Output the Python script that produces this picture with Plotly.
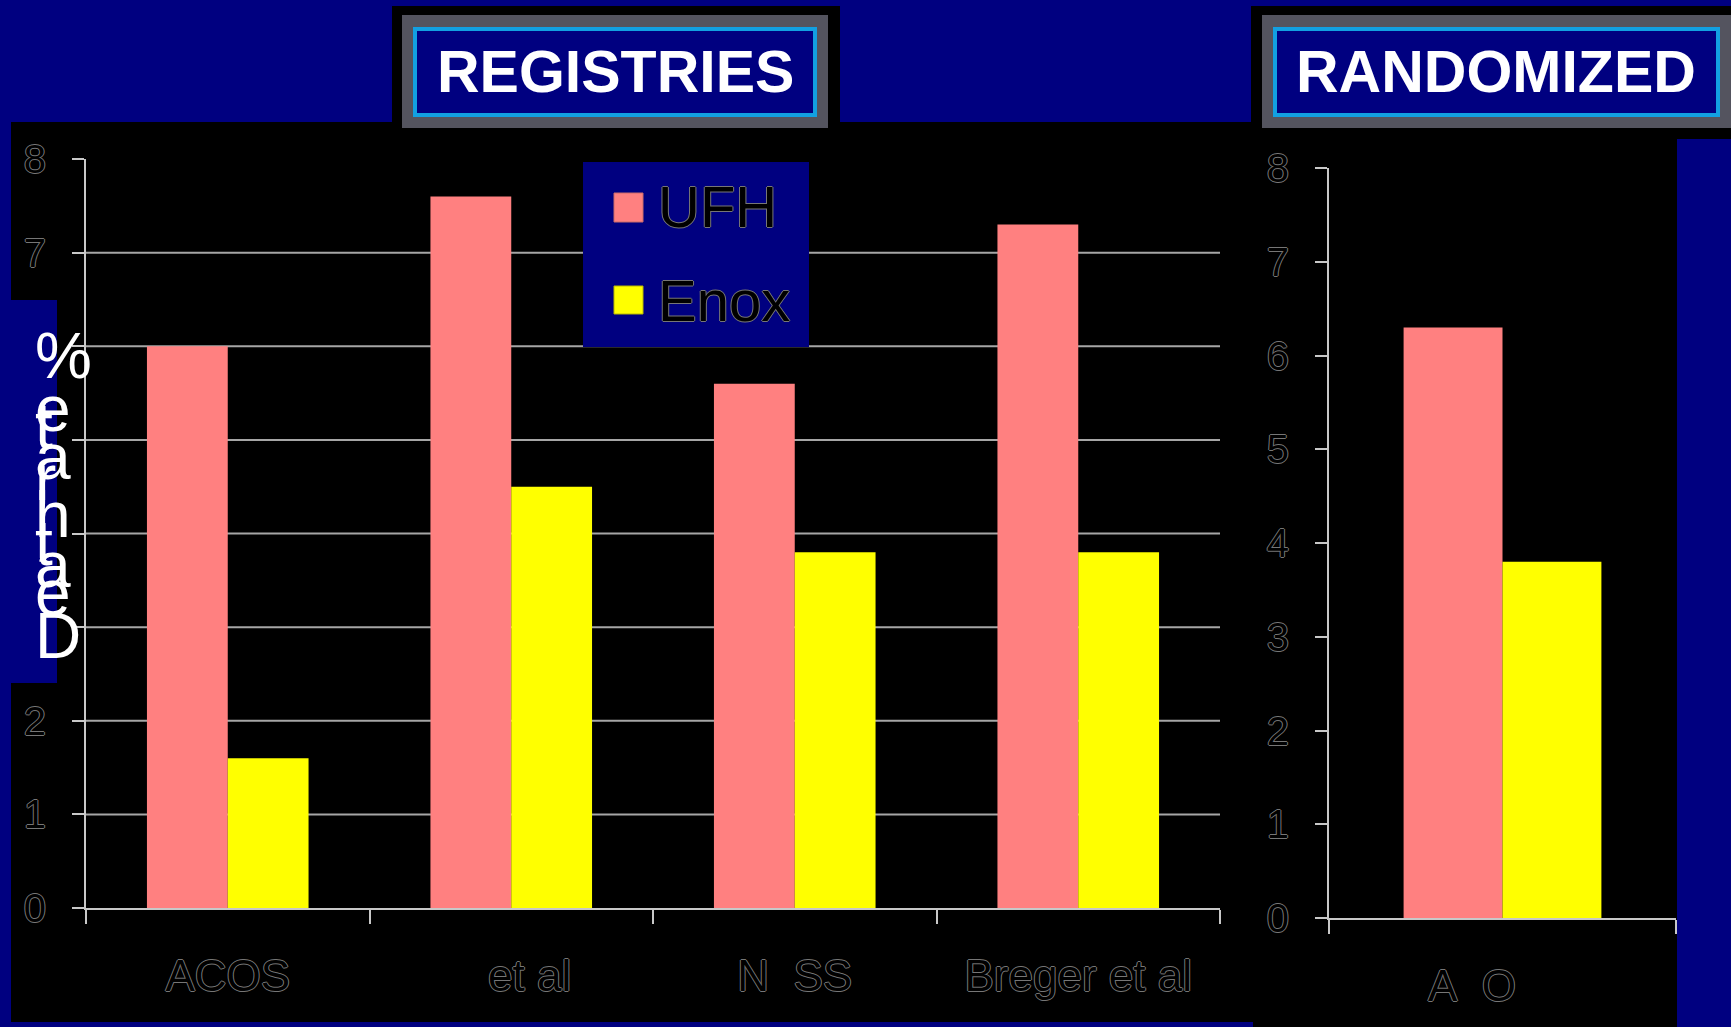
import plotly.graph_objects as go

W, H = 1731, 1027
NB = "\u00a0"

# ---- data ----
registry_studies = ["ACOS", NB * 3 + "et al", "N  SS", "Breger et al"]
registry_ufh = [6.0, 7.6, 5.6, 7.3]
registry_enox = [1.6, 4.5, 3.8, 3.8]

randomized_studies = ["A" + NB * 2 + "O" + NB * 5]
randomized_ufh = [6.3]
randomized_enox = [3.8]

y_ticks = [0, 1, 2, 3, 4, 5, 6, 7, 8]
grid_values = [1, 2, 3, 4, 5, 6, 7]
series_names = ["UFH", "Enox"]
panel_titles = ["REGISTRIES", "RANDOMIZED"]
y_title_letters = list("%etarhtaeD")

# ---- styling ----
NAVY = "#000080"
BLACK = "#000000"
UFH_COLOR = "#FF8080"
ENOX_COLOR = "#FFFF00"
CYAN = "#12a0e2"
TEXTURE = "#54545f"
AXIS_GREY = "#c8c8c8"
GRID_GREY = "#a6a6a6"
FONT = "Liberation Sans, Arial, sans-serif"
OUTLINE = ("-1px 0 0 #767676, 1px 0 0 #767676, "
           "0 -1px 0 #767676, 0 1px 0 #767676")


def px(x):
    return x / W


def py(y):
    return 1 - y / H


def rect(x0, y0, x1, y1, fill, line_color=None, line_width=0, layer="below"):
    return dict(type="rect", xref="paper", yref="paper",
                x0=px(x0), x1=px(x1), y0=py(y1), y1=py(y0),
                fillcolor=fill, layer=layer,
                line=dict(color=line_color or fill, width=line_width))


def label(text, x, y, font, xanchor="center"):
    return dict(text=text, x=px(x), y=py(y), xref="paper", yref="paper",
                xanchor=xanchor, yanchor="middle", showarrow=False, font=font)


fig = go.Figure()

for name, vals, color in [(series_names[0], registry_ufh, UFH_COLOR),
                          (series_names[1], registry_enox, ENOX_COLOR)]:
    fig.add_trace(go.Bar(x=registry_studies, y=vals, name=name,
                         marker=dict(color=color, line=dict(width=0)),
                         xaxis="x", yaxis="y", showlegend=False,
                         hovertemplate="%{y}%<extra>" + name + "</extra>"))

for name, vals, color in [(series_names[0], randomized_ufh, UFH_COLOR),
                          (series_names[1], randomized_enox, ENOX_COLOR)]:
    fig.add_trace(go.Bar(x=randomized_studies, y=vals, name=name,
                         marker=dict(color=color, line=dict(width=0)),
                         xaxis="x2", yaxis="y2", showlegend=False,
                         hovertemplate="%{y}%<extra>" + name + "</extra>"))

shapes = [
    # black chart panels
    rect(11, 122, 1253, 1022, BLACK),
    rect(1253, 122, 1677, 1027, BLACK),
    # title boxes: black frame, textured border, cyan line, navy fill
    rect(392, 6, 840, 124, BLACK),
    rect(402, 15, 828, 128, TEXTURE),
    rect(415, 29, 815, 115, NAVY, CYAN, 4),
    rect(1251, 6, 1731, 139, BLACK),
    rect(1262, 15, 1731, 128, TEXTURE),
    rect(1275, 29, 1718, 115, NAVY, CYAN, 4),
]

# horizontal gridlines, left chart only
for g in grid_values:
    shapes.append(dict(type="line", xref="x domain", yref="y",
                       x0=0, x1=1, y0=g, y1=g, layer="below",
                       line=dict(color=GRID_GREY, width=2)))

# legend box and keys
shapes += [
    rect(583, 162, 809, 347, NAVY, layer="above"),
    rect(614, 193, 643, 222, UFH_COLOR, "#c86a6a", 1, layer="above"),
    rect(614, 286, 643, 314, ENOX_COLOR, "#b8b800", 1, layer="above"),
    # blue box behind the vertical axis title
    rect(11, 300, 57, 683, NAVY, layer="above"),
]

title_font = dict(family=FONT, size=59, color="white", weight="bold")
legend_font = dict(family=FONT, size=58, color=BLACK, shadow=OUTLINE)

annotations = [
    label(panel_titles[0], 615, 72, title_font),
    label(panel_titles[1], 1496, 72, title_font),
    label(series_names[0], 656, 207, legend_font, xanchor="left"),
    label(series_names[1], 656, 300, legend_font, xanchor="left"),
]

# vertical axis title, letters stacked and overlapping as on the slide
letter_y = [356, 409, 426, 457, 478, 515, 543, 565, 593, 636]
for ch, yy in zip(y_title_letters, letter_y):
    annotations.append(label(ch, 33, yy, dict(family=FONT, size=64, color="white"),
                             xanchor="left"))

tick_font = dict(family=FONT, size=40, color=BLACK, shadow=OUTLINE)
cat_font = dict(family=FONT, size=44, color=BLACK, shadow=OUTLINE)

x_common = dict(showline=True, linecolor=AXIS_GREY, linewidth=2,
                ticks="outside", tickson="boundaries", ticklen=14,
                tickcolor=AXIS_GREY, tickwidth=2, showgrid=False,
                tickfont=cat_font, ticklabelstandoff=28, fixedrange=True,
                automargin=False)
y_common = dict(range=[0, 8], tickvals=y_ticks, showline=True,
                linecolor=AXIS_GREY, linewidth=2, ticks="outside", ticklen=12,
                tickcolor=AXIS_GREY, tickwidth=2, showgrid=False, zeroline=False,
                tickfont=tick_font, ticklabelstandoff=18, fixedrange=True,
                automargin=False)

fig.update_layout(
    width=W, height=H,
    margin=dict(l=0, r=0, t=0, b=0, autoexpand=False),
    paper_bgcolor=NAVY,
    plot_bgcolor="rgba(0,0,0,0)",
    barmode="group", bargap=0.43, bargroupgap=0,
    showlegend=False,
    xaxis=dict(domain=[px(86), px(1220)], anchor="y", **x_common),
    yaxis=dict(domain=[py(908), py(159)], anchor="x", **y_common),
    xaxis2=dict(domain=[px(1329), px(1676)], anchor="y2", **x_common),
    yaxis2=dict(domain=[py(918), py(168)], anchor="x2", **y_common),
    shapes=shapes,
    annotations=annotations,
)

fig.write_html("out.html",
               config={"displayModeBar": False},
               post_script="document.body.style.margin='0';"
                           "document.body.style.overflow='hidden';")
